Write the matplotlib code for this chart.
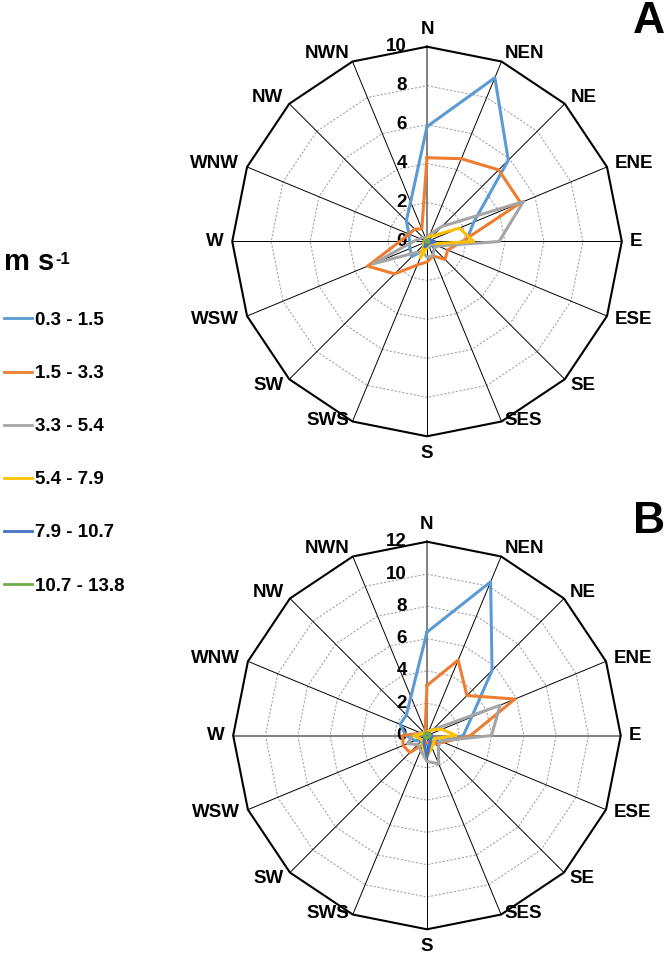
import numpy as np
import matplotlib
matplotlib.use("Agg")
import matplotlib.pyplot as plt

plt.rcParams['font.family'] = ['Liberation Sans', 'DejaVu Sans']
plt.rcParams['font.weight'] = 'bold'

# wind directions, clockwise from north
directions = ['N', 'NEN', 'NE', 'ENE', 'E', 'ESE', 'SE', 'SES',
              'S', 'SWS', 'SW', 'WSW', 'W', 'WNW', 'NW', 'NWN']
speed_bins = ['0.3 - 1.5', '1.5 - 3.3', '3.3 - 5.4',
              '5.4 - 7.9', '7.9 - 10.7', '10.7 - 13.8']
colors = ['#5B9BD5', '#ED7D31', '#A5A5A5', '#FFC000', '#4472C4', '#70AD47']

# panel A frequencies (%)
a_03_15 = [5.9, 9.1, 5.9, 2.6, 2.0, 0.5, 0.3, 0.3, 0.3, 0.5, 1.1, 0.95, 0.9, 1.0, 1.5, 2.2]
a_15_33 = [4.3, 4.6, 5.2, 5.2, 1.8, 1.15, 1.3, 0.8, 1.05, 1.3, 2.35, 3.3, 1.4, 1.0, 0.9, 0.7]
a_33_54 = [0.2, 0.4, 1.1, 5.35, 3.7, 0.6, 0.5, 0.8, 0.8, 0.6, 0.8, 3.0, 0.7, 0.4, 0.3, 0.2]
a_54_79 = [0.1, 0.3, 0.4, 1.8, 2.4, 0.3, 0.2, 0.2, 0.3, 0.9, 0.2, 0.2, 0.1, 0.1, 0.1, 0.1]
a_79_107 = [0.05, 0.1, 0.1, 0.2, 0.4, 0.2, 0.1, 0.1, 0.2, 0.3, 0.1, 0.1, 0.05, 0.05, 0.05, 0.05]
a_107_138 = [0.05, 0.05, 0.05, 0.1, 0.1, 0.05, 0.05, 0.05, 0.05, 0.05, 0.05, 0.05, 0.05, 0.05, 0.05, 0.05]

# panel B frequencies (%)
b_03_15 = [6.4, 10.3, 5.7, 3.0, 2.25, 0.9, 0.5, 0.5, 0.6, 0.5, 0.5, 0.8, 1.3, 1.8, 1.8, 2.6]
b_15_33 = [3.1, 5.05, 3.5, 5.9, 2.7, 1.1, 0.7, 0.5, 0.4, 0.6, 1.5, 1.6, 1.5, 0.4, 0.2, 0.3]
b_33_54 = [0.2, 0.3, 0.5, 4.9, 4.0, 0.9, 1.0, 1.9, 1.6, 1.0, 0.8, 1.3, 0.9, 0.4, 0.2, 0.2]
b_54_79 = [0.2, 0.3, 0.5, 1.0, 1.8, 0.5, 0.6, 0.8, 1.3, 0.7, 0.4, 0.5, 0.8, 0.3, 0.2, 0.2]
b_79_107 = [0.1, 0.1, 0.1, 0.2, 0.3, 0.3, 0.3, 0.5, 1.3, 0.5, 0.2, 0.1, 0.1, 0.1, 0.1, 0.1]
b_107_138 = [0.15, 0.15, 0.15, 0.2, 0.2, 0.15, 0.15, 0.15, 0.2, 0.15, 0.15, 0.15, 0.15, 0.15, 0.15, 0.15]

ticks_a = [0, 2, 4, 6, 8, 10]
ticks_b = [0, 2, 4, 6, 8, 10, 12]

theta = np.deg2rad(np.arange(len(directions)) * 360 / len(directions))
theta_closed = np.append(theta, theta[0])


def radar(ax, series, ticks, gray_spokes=('N',)):
    rmax = ticks[-1]
    ax.set_theta_zero_location('N')
    ax.set_theta_direction(-1)
    ax.set_ylim(0, rmax)
    ax.grid(False)
    ax.set_xticks([])
    ax.set_yticks([])
    ax.spines['polar'].set_visible(False)
    ax.patch.set_alpha(0)

    # polygon rings
    for r in ticks[1:-1]:
        ax.plot(theta_closed, [r] * len(theta_closed), color='#A6A6A6',
                lw=0.8, ls=(0, (2, 1.5)), zorder=1)
    ax.plot(theta_closed, [rmax] * len(theta_closed), color='black', lw=1.5,
            zorder=2, clip_on=False)
    # spokes
    for i, t in enumerate(theta):
        if directions[i] in gray_spokes:
            ax.plot([t, t], [0, rmax], color='#808080', lw=1.4, zorder=1)
        else:
            ax.plot([t, t], [0, rmax], color='black', lw=0.7, zorder=1)

    # radial labels along the north spoke
    for r in ticks:
        ax.annotate(str(r), xy=(0, r), xytext=(-14.5, 0), textcoords='offset points',
                    ha='right', va='center', fontsize=13.5, fontweight='bold')

    # direction labels
    for t, name in zip(theta, directions):
        s, c = np.sin(t), np.cos(t)
        ha = 'left' if s > 0.1 else ('right' if s < -0.1 else 'center')
        if c > 0.99:
            va = 'bottom'
        elif c < -0.99:
            va = 'top'
        elif c < -0.9:
            va = 'bottom'
        else:
            va = 'center'
        ax.annotate(name, xy=(t, rmax), xytext=(6 * s, 6 * c),
                    textcoords='offset points', ha=ha, va=va,
                    fontsize=13.5, fontweight='bold', annotation_clip=False)

    lines = []
    for vals, col in zip(series, colors):
        v = np.append(vals, vals[0])
        ln, = ax.plot(theta_closed, v, color=col, lw=2.2, zorder=3)
        lines.append(ln)
    return lines


fig = plt.figure(figsize=(6.7, 9.61), dpi=100)

ax_a = fig.add_axes([0.3466, 0.546, 0.5815, 0.4054], projection='polar')
lines = radar(ax_a, [a_03_15, a_15_33, a_33_54, a_54_79, a_79_107, a_107_138], ticks_a)

ax_b = fig.add_axes([0.348, 0.033, 0.5785, 0.4033], projection='polar')
radar(ax_b, [b_03_15, b_15_33, b_33_54, b_54_79, b_79_107, b_107_138], ticks_b,
      gray_spokes=('N', 'E', 'W'))

fig.text(0.969, 0.978, 'A', fontsize=32, fontweight='bold', ha='center', va='center')
fig.text(0.969, 0.457, 'B', fontsize=32, fontweight='bold', ha='center', va='center')

leg = fig.legend(lines, speed_bins, loc='upper left', bbox_to_anchor=(0.0, 0.746),
                 frameon=False, fontsize=13.5, handlelength=1.5, handletextpad=0.15,
                 labelspacing=1.92, borderaxespad=0, borderpad=0.2,
                 title='m s', alignment='left',
                 title_fontproperties={'size': 21, 'weight': 'bold'})
for h in leg.legend_handles:
    h.set_linewidth(2)

# unit exponent, set as a superscript next to the legend title
fig.canvas.draw()
bb = leg.get_title().get_window_extent()
fw, fh = fig.bbox.width, fig.bbox.height
fig.text(bb.x1 / fw + 0.002, bb.y1 / fh - 0.004, '-1', fontsize=12,
         fontweight='bold', ha='left', va='top')

fig.savefig('out.png', dpi=100)
